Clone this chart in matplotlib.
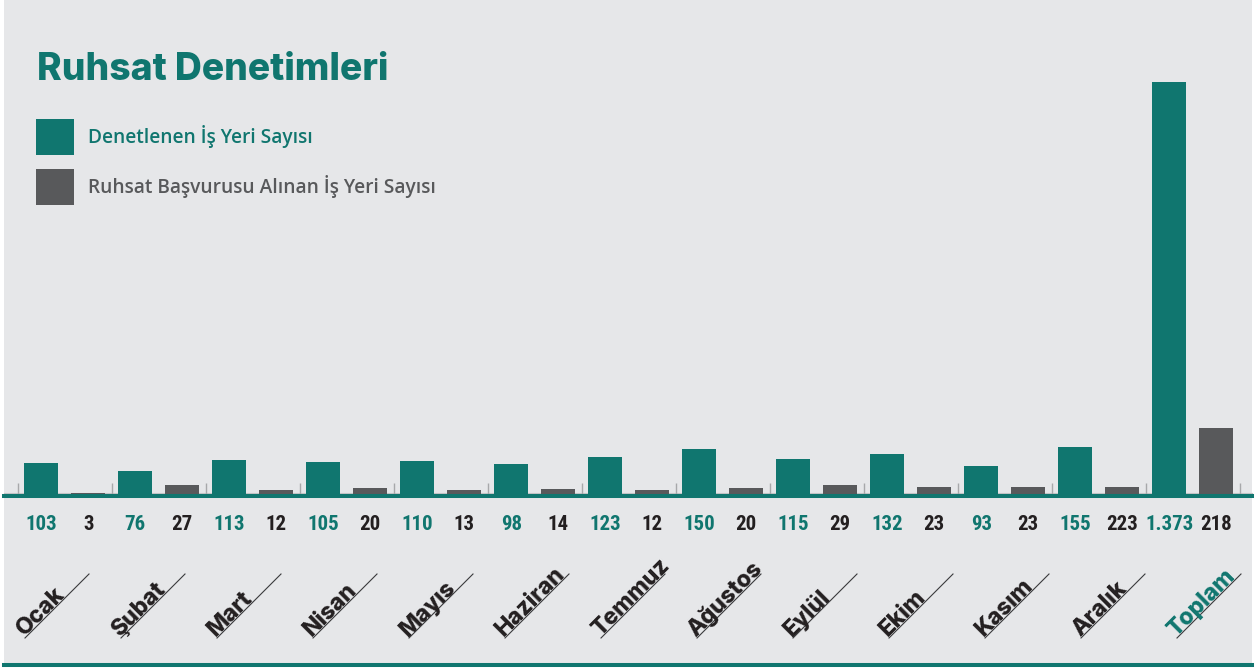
import matplotlib
matplotlib.use("Agg")
import matplotlib.pyplot as plt
from matplotlib.patches import Rectangle
from matplotlib.lines import Line2D
from matplotlib import font_manager as fm
import numpy as np

# ---- data ----
months = ["Ocak", "Şubat", "Mart", "Nisan", "Mayıs", "Haziran", "Temmuz",
          "Ağustos", "Eylül", "Ekim", "Kasım", "Aralık", "Toplam"]
denetlenen = [103, 76, 113, 105, 110, 98, 123, 150, 115, 132, 93, 155, 1373]
basvuru = [3, 27, 12, 20, 13, 14, 12, 20, 29, 23, 23, 23, 218]
denetlenen_labels = ["103", "76", "113", "105", "110", "98", "123", "150",
                     "115", "132", "93", "155", "1.373"]
basvuru_labels = ["3", "27", "12", "20", "13", "14", "12", "20", "29", "23",
                  "23", "223", "218"]
title = "Ruhsat Denetimleri"
legend_labels = ["Denetlenen İş Yeri Sayısı", "Ruhsat Başvurusu Alınan İş Yeri Sayısı"]

# ---- style ----
TEAL = "#10766f"
GREY = "#58595b"
DARK = "#231f20"
BG = "#e6e7e9"
W, H = 1256, 669


def condensed_bold():
    cands = []
    for f in fm.fontManager.ttflist:
        nm = f.name
        st = str(f.stretch)
        narrow = ("Condensed" in nm or "Narrow" in nm or
                  st in ("condensed", "semi-condensed", "extra-condensed") or
                  "Condensed" in f.fname or "Narrow" in f.fname)
        try:
            wt = int(f.weight)
        except Exception:
            wt = 700 if "bold" in str(f.weight) else 400
        if narrow and wt >= 600 and not f.style == "italic":
            if "Roboto" in nm or "Roboto" in f.fname:
                pref = 0
            elif "Liberation" in nm:
                pref = 1
            elif "DejaVu" in nm:
                pref = 2
            else:
                pref = 3
            cands.append((pref, abs(wt - 700), f.fname))
    if cands:
        cands.sort()
        return fm.FontProperties(fname=cands[0][2])
    return fm.FontProperties(family="DejaVu Sans", weight="bold",
                             stretch="condensed")


num_fp = condensed_bold()
num_fp.set_size(15)

fig = plt.figure(figsize=(W / 100, H / 100), dpi=100, facecolor="white")
fig.patches.append(Rectangle((4 / W, 2 / H), 1248 / W, 1 - 2 / H,
                             transform=fig.transFigure, facecolor=BG,
                             edgecolor="none", zorder=-10))

# bar axes: x from pixel 4 to 1252, y from baseline (493.5) to top (82)
ax = fig.add_axes([4 / W, (H - 493.5) / H, 1248 / W, 411.5 / H])
ax.set_facecolor("none")
ax.set_zorder(5)
n = len(months)
x = np.arange(n)
bw = 34 / 94
off = 23.5 / 94
ax.bar(x - off, denetlenen, width=bw, color=TEAL, zorder=3)
ax.bar(x + off, basvuru, width=bw, color=GREY, zorder=3)
ax.set_xlim((4 - 64.7) / 94, (1252 - 64.7) / 94)
ax.set_ylim(0, max(denetlenen))
ax.axis("off")

# group separator ticks
ax.vlines(np.arange(n + 1) - 0.5, 0, 34, color="#a7a8aa", lw=1.0, zorder=2)

# baseline lines
fig.lines.append(Line2D([4 / W, 1252 / W], [(H - 493) / H] * 2,
                        transform=fig.transFigure, color="#c4c5c7", lw=0.8))
fig.lines.append(Line2D([4 / W, 1252 / W], [(H - 496) / H] * 2,
                        transform=fig.transFigure, color=TEAL, lw=2.9,
                        zorder=6))
fig.lines.append(Line2D([4 / W, 1252 / W], [(H - 665) / H] * 2,
                        transform=fig.transFigure, color=TEAL, lw=2.9))

# value labels
for i in range(n):
    ax.annotate(denetlenen_labels[i], (x[i] - off, 0), xytext=(0, -22.5),
                textcoords="offset points", ha="center", va="center",
                color=TEAL, annotation_clip=False, fontproperties=num_fp)
    ax.annotate(basvuru_labels[i], (x[i] + off, 0), xytext=(0, -22.5),
                textcoords="offset points", ha="center", va="center",
                color=DARK, annotation_clip=False, fontproperties=num_fp)

# month labels with diagonal underline
for i, m in enumerate(months):
    xe = 89 + 96 * i
    xs = xe - 64
    col = TEAL if m == "Toplam" else DARK
    fig.lines.append(Line2D([xs / W, xe / W], [(H - 638) / H, (H - 574) / H],
                            transform=fig.transFigure, color="#3a3a3c", lw=0.8))
    fig.text((xs - 1) / W, (H - 637) / H, m, rotation=45, rotation_mode="anchor",
             ha="left", va="baseline", color=col, fontsize=16.5,
             family=["Inter", "DejaVu Sans"], fontweight="heavy")

# title
fig.text(37 / W, (H - 80) / H, title, ha="left", va="baseline", color=TEAL,
         fontsize=26.8, family=["Inter", "DejaVu Sans"], fontweight="heavy")

# legend
for j, (lab, c) in enumerate(zip(legend_labels, [TEAL, GREY])):
    y0 = 119 + 50 * j
    fig.patches.append(Rectangle((36 / W, (H - y0 - 36) / H), 38 / W, 36 / H,
                                 transform=fig.transFigure, facecolor=c,
                                 edgecolor="none"))
    fig.text(88 / W, (H - y0 - 18) / H, lab, ha="left", va="center",
             color=c, fontsize=13.8, family=["Open Sans", "DejaVu Sans"],
             fontweight="semibold")

fig.savefig("out.png", dpi=100, facecolor="white")
